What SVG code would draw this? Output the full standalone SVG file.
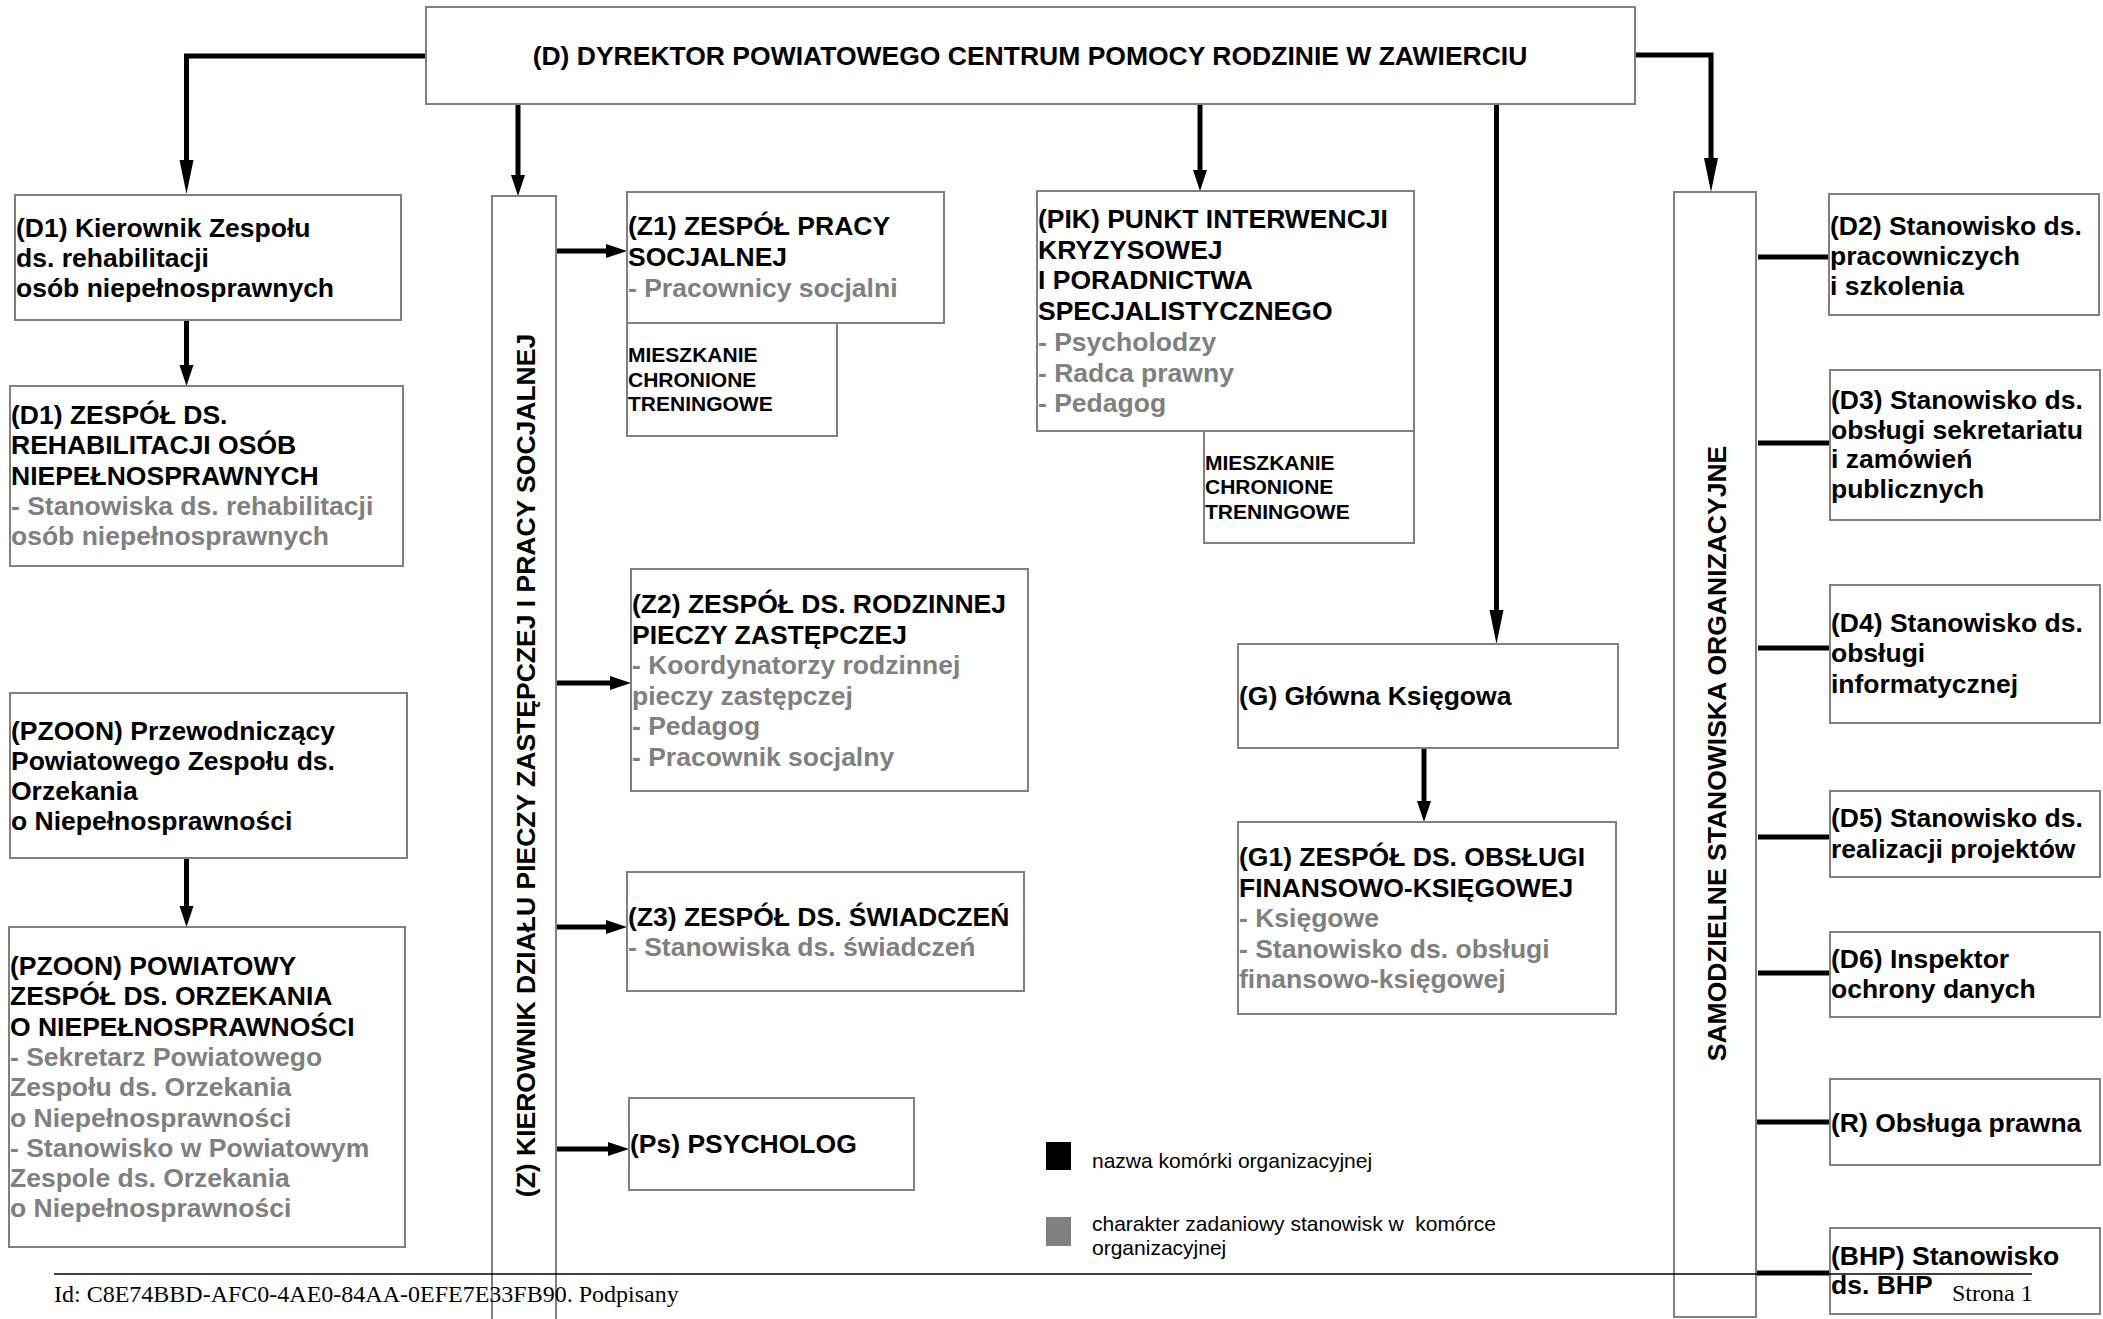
<svg xmlns="http://www.w3.org/2000/svg" width="2103" height="1319" viewBox="0 0 2103 1319">
<style>
.box{fill:#fff;stroke:#808080;stroke-width:2}
.t{font-family:"Liberation Sans",Arial,sans-serif;font-weight:bold;font-size:26.5px;fill:#000}
.g{fill:#808080}
.s{font-size:21px}
.lg{font-family:"Liberation Sans",Arial,sans-serif;font-size:21px;fill:#000}
.ft{font-family:"Liberation Serif","Times New Roman",serif;font-size:24px;fill:#000}
.c{fill:none;stroke:#000;stroke-width:5}
.sl{fill:none;stroke:#000;stroke-width:1.5}
</style>
<defs>
<marker id="ah" markerUnits="userSpaceOnUse" markerWidth="21" markerHeight="14" viewBox="0 0 21 14" refX="0" refY="7" orient="auto" overflow="visible">
<path d="M0,0 L21,7 L0,14 z" fill="#000"/>
</marker>
<marker id="ahl" markerUnits="userSpaceOnUse" markerWidth="34" markerHeight="14" viewBox="0 0 34 14" refX="0" refY="7" orient="auto" overflow="visible">
<path d="M0,0 L34,7 L0,14 z" fill="#000"/>
</marker>
</defs>
<rect x="0" y="0" width="2103" height="1319" fill="#fff"/>

<g id="connectors">
<path class="c" d="M426,56 H186.5 V160" marker-end="url(#ahl)"/>
<path class="c" d="M518,104 V175" marker-end="url(#ah)"/>
<path class="c" d="M1200,104 V170" marker-end="url(#ah)"/>
<path class="c" d="M1496.5,104 V610" marker-end="url(#ahl)"/>
<path class="c" d="M1635,55 H1711 V158" marker-end="url(#ahl)"/>
<path class="c" d="M186.5,320 V365" marker-end="url(#ah)"/>
<path class="c" d="M186.5,858 V906" marker-end="url(#ah)"/>
<path class="c" d="M1424,748 V801" marker-end="url(#ah)"/>
<path class="c" d="M557,251 H606" marker-end="url(#ah)"/>
<path class="c" d="M557,683 H610" marker-end="url(#ah)"/>
<path class="c" d="M557,927 H606" marker-end="url(#ah)"/>
<path class="c" d="M557,1149 H608" marker-end="url(#ah)"/>
<path class="c" d="M1758,257 H1830"/>
<path class="c" d="M1758,443 H1830"/>
<path class="c" d="M1758,648 H1830"/>
<path class="c" d="M1758,837 H1830"/>
<path class="c" d="M1758,973 H1830"/>
<path class="c" d="M1757,1122 H1830"/>
<path class="c" d="M1757,1273 H1830"/>
</g>

<g id="D">
<rect class="box" x="426" y="7" width="1209" height="97"/>
<text class="t" x="1030" y="65" text-anchor="middle">(D) DYREKTOR POWIATOWEGO CENTRUM POMOCY RODZINIE W ZAWIERCIU</text>
</g>

<g id="D1-kierownik">
<rect class="box" x="15" y="195" width="386" height="125"/>
<text class="t"><tspan x="16" y="237">(D1) Kierownik Zespołu</tspan><tspan x="16" y="267">ds. rehabilitacji</tspan><tspan x="16" y="297">osób niepełnosprawnych</tspan></text>
</g>

<g id="D1-zespol">
<rect class="box" x="10" y="386" width="393" height="180"/>
<text class="t"><tspan x="11" y="424">(D1) ZESPÓŁ DS.</tspan><tspan x="11" y="454">REHABILITACJI OSÓB</tspan><tspan x="11" y="485">NIEPEŁNOSPRAWNYCH</tspan></text>
<text class="t g"><tspan x="11" y="515">- Stanowiska ds. rehabilitacji</tspan><tspan x="11" y="545">osób niepełnosprawnych</tspan></text>
</g>

<g id="PZOON-przewodniczacy">
<rect class="box" x="10" y="693" width="397" height="165"/>
<text class="t"><tspan x="11" y="740">(PZOON) Przewodniczący</tspan><tspan x="11" y="770">Powiatowego Zespołu ds.</tspan><tspan x="11" y="800">Orzekania</tspan><tspan x="11" y="830">o Niepełnosprawności</tspan></text>
</g>

<g id="PZOON-zespol">
<rect class="box" x="9" y="927" width="396" height="320"/>
<text class="t"><tspan x="10" y="975">(PZOON) POWIATOWY</tspan><tspan x="10" y="1005.3">ZESPÓŁ DS. ORZEKANIA</tspan><tspan x="10" y="1035.6">O NIEPEŁNOSPRAWNOŚCI</tspan></text>
<text class="t g"><tspan x="10" y="1065.9">- Sekretarz Powiatowego</tspan><tspan x="10" y="1096.2">Zespołu ds. Orzekania</tspan><tspan x="10" y="1126.5">o Niepełnosprawności</tspan><tspan x="10" y="1156.8">- Stanowisko w Powiatowym</tspan><tspan x="10" y="1187.1">Zespole ds. Orzekania</tspan><tspan x="10" y="1217.4">o Niepełnosprawności</tspan></text>
</g>

<g id="Z">
<path class="box" d="M492,1330 V196 H556 V1330"/>
<text class="t" transform="translate(535,765.5) rotate(-90)" text-anchor="middle">(Z) KIEROWNIK DZIAŁU PIECZY ZASTĘPCZEJ I PRACY SOCJALNEJ</text>
</g>

<g id="Z1">
<rect class="box" x="627" y="192" width="317" height="131"/>
<text class="t"><tspan x="628" y="235">(Z1) ZESPÓŁ PRACY</tspan><tspan x="628" y="266">SOCJALNEJ</tspan></text>
<text class="t g" x="628" y="297">- Pracownicy socjalni</text>
</g>

<g id="M1">
<rect class="box" x="627" y="323" width="210" height="113"/>
<text class="t s"><tspan x="628" y="362">MIESZKANIE</tspan><tspan x="628" y="386.5">CHRONIONE</tspan><tspan x="628" y="411">TRENINGOWE</tspan></text>
</g>

<g id="Z2">
<rect class="box" x="631" y="569" width="397" height="222"/>
<text class="t"><tspan x="632" y="613">(Z2) ZESPÓŁ DS. RODZINNEJ</tspan><tspan x="632" y="643.5">PIECZY ZASTĘPCZEJ</tspan></text>
<text class="t g"><tspan x="632" y="674">- Koordynatorzy rodzinnej</tspan><tspan x="632" y="704.5">pieczy zastępczej</tspan><tspan x="632" y="735">- Pedagog</tspan><tspan x="632" y="765.5">- Pracownik socjalny</tspan></text>
</g>

<g id="Z3">
<rect class="box" x="627" y="872" width="397" height="119"/>
<text class="t" x="628" y="926">(Z3) ZESPÓŁ DS. ŚWIADCZEŃ</text>
<text class="t g" x="628" y="956">- Stanowiska ds. świadczeń</text>
</g>

<g id="Ps">
<rect class="box" x="629" y="1098" width="285" height="92"/>
<text class="t" x="630" y="1153">(Ps) PSYCHOLOG</text>
</g>

<g id="PIK">
<rect class="box" x="1037" y="191" width="377" height="240"/>
<text class="t"><tspan x="1038" y="228">(PIK) PUNKT INTERWENCJI</tspan><tspan x="1038" y="259">KRYZYSOWEJ</tspan><tspan x="1038" y="289">I PORADNICTWA</tspan><tspan x="1038" y="320">SPECJALISTYCZNEGO</tspan></text>
<text class="t g"><tspan x="1038" y="351">- Psycholodzy</tspan><tspan x="1038" y="382">- Radca prawny</tspan><tspan x="1038" y="412">- Pedagog</tspan></text>
</g>

<g id="M2">
<rect class="box" x="1204" y="431" width="210" height="112"/>
<text class="t s"><tspan x="1205" y="470">MIESZKANIE</tspan><tspan x="1205" y="494">CHRONIONE</tspan><tspan x="1205" y="519">TRENINGOWE</tspan></text>
</g>

<g id="G">
<rect class="box" x="1238" y="644" width="380" height="104"/>
<text class="t" x="1239" y="705">(G) Główna Księgowa</text>
</g>

<g id="G1">
<rect class="box" x="1238" y="822" width="378" height="192"/>
<text class="t"><tspan x="1239" y="866">(G1) ZESPÓŁ DS. OBSŁUGI</tspan><tspan x="1239" y="896.5">FINANSOWO-KSIĘGOWEJ</tspan></text>
<text class="t g"><tspan x="1239" y="927">- Księgowe</tspan><tspan x="1239" y="957.5">- Stanowisko ds. obsługi</tspan><tspan x="1239" y="988">finansowo-księgowej</tspan></text>
</g>

<g id="SSO">
<rect class="box" x="1674" y="192" width="82" height="1125"/>
<text class="t" transform="translate(1725.5,753.5) rotate(-90)" text-anchor="middle">SAMODZIELNE STANOWISKA ORGANIZACYJNE</text>
</g>

<g id="D2">
<rect class="box" x="1829" y="194" width="270" height="121"/>
<text class="t"><tspan x="1830" y="235">(D2) Stanowisko ds.</tspan><tspan x="1830" y="265">pracowniczych</tspan><tspan x="1830" y="295">i szkolenia</tspan></text>
</g>

<g id="D3">
<rect class="box" x="1830" y="370" width="270" height="150"/>
<text class="t"><tspan x="1831" y="409">(D3) Stanowisko ds.</tspan><tspan x="1831" y="439">obsługi sekretariatu</tspan><tspan x="1831" y="468">i zamówień</tspan><tspan x="1831" y="498">publicznych</tspan></text>
</g>

<g id="D4">
<rect class="box" x="1830" y="585" width="270" height="138"/>
<text class="t"><tspan x="1831" y="632">(D4) Stanowisko ds.</tspan><tspan x="1831" y="662">obsługi</tspan><tspan x="1831" y="693">informatycznej</tspan></text>
</g>

<g id="D5">
<rect class="box" x="1830" y="791" width="270" height="86"/>
<text class="t"><tspan x="1831" y="827">(D5) Stanowisko ds.</tspan><tspan x="1831" y="858">realizacji projektów</tspan></text>
</g>

<g id="D6">
<rect class="box" x="1830" y="932" width="270" height="85"/>
<text class="t"><tspan x="1831" y="968">(D6) Inspektor</tspan><tspan x="1831" y="998">ochrony danych</tspan></text>
</g>

<g id="R">
<rect class="box" x="1830" y="1079" width="270" height="86"/>
<text class="t" x="1831" y="1132">(R) Obsługa prawna</text>
</g>

<g id="BHP">
<rect class="box" x="1830" y="1228" width="270" height="86"/>
<text class="t"><tspan x="1831" y="1265">(BHP) Stanowisko</tspan><tspan x="1831" y="1294">ds. BHP</tspan></text>
</g>

<g id="legend">
<rect x="1046" y="1142" width="25" height="28" fill="#000"/>
<rect x="1046" y="1217" width="25" height="29" fill="#808080"/>
<text class="lg" x="1092" y="1168">nazwa komórki organizacyjnej</text>
<text class="lg"><tspan x="1092" y="1231">charakter zadaniowy stanowisk w&#160; komórce</tspan><tspan x="1092" y="1255">organizacyjnej</tspan></text>
</g>

<g id="footer">
<line class="sl" x1="54" y1="1274" x2="2032" y2="1274"/>
<text class="ft" x="54" y="1302">Id: C8E74BBD-AFC0-4AE0-84AA-0EFE7E33FB90. Podpisany</text>
<text class="ft" x="1952" y="1301">Strona 1</text>
</g>
</svg>
